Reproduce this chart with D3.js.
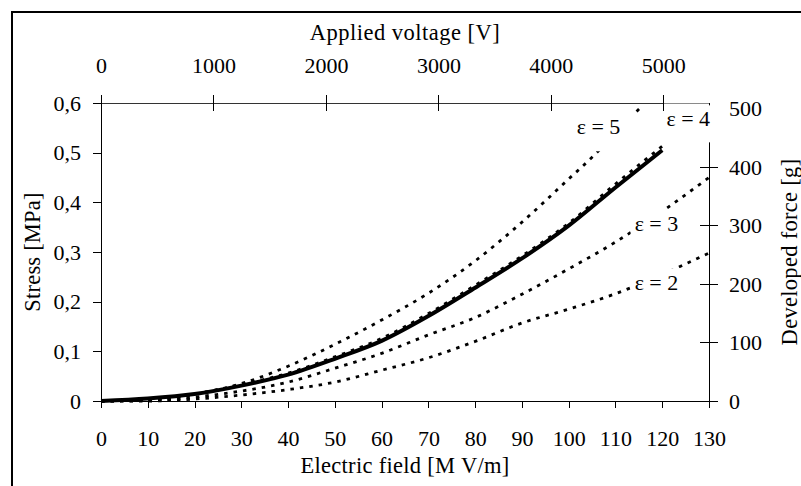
<!DOCTYPE html>
<html>
<head>
<meta charset="utf-8">
<script src="https://cdnjs.cloudflare.com/ajax/libs/d3/7.8.5/d3.min.js"></script>
<style>
body { margin: 0; background: white; }
text { font-family: "Liberation Serif", "Times New Roman", serif; fill: black; }
</style>
</head>
<body>
<div id="root"></div>
<script>
// values
var fieldE = [0, 10, 20, 30, 40, 50, 60, 70, 80, 90, 100, 110, 120, 130];
var fitField = [0, 10, 20, 30, 40, 50, 60, 70, 80, 90, 100, 110, 120];
var stressFit = [0, 0.005, 0.014, 0.031, 0.053, 0.085, 0.121, 0.171, 0.228, 0.287, 0.353, 0.43, 0.505];
var stressEps4 = [0, 0.003, 0.014, 0.033, 0.056, 0.089, 0.126, 0.176, 0.233, 0.292, 0.358, 0.437, 0.513];
var stressEps3 = [0, 0.001, 0.008, 0.02, 0.038, 0.066, 0.096, 0.133, 0.168, 0.215, 0.266, 0.32, 0.382, 0.45];
var stressEps2 = [0, 0, 0.004, 0.012, 0.023, 0.038, 0.062, 0.087, 0.12, 0.157, 0.185, 0.216, 0.255, 0.298];
var eps5Field = [0, 10, 20, 30, 40, 50, 60, 70, 80, 90, 100, 106, 110, 115.5];
var stressEps5 = [0, 0.002, 0.014, 0.035, 0.07, 0.114, 0.163, 0.217, 0.282, 0.36, 0.447, 0.5, 0.54, 0.592];

var fieldTicks = [0, 10, 20, 30, 40, 50, 60, 70, 80, 90, 100, 110, 120, 130];
var stressTicks = [0, 0.1, 0.2, 0.3, 0.4, 0.5, 0.6];
var voltageTicks = [0, 1000, 2000, 3000, 4000, 5000];
var forceTicks = [0, 100, 200, 300, 400, 500];

var w = 801;
var h = 486;
var font = "'Liberation Serif', 'Times New Roman', serif";

// scales
var x = d3.scaleLinear().domain([0, 130]).range([101, 709]);
var y = d3.scaleLinear().domain([0, 0.6]).range([401, 103]);
var yForce = d3.scaleLinear().domain([0, 509.4]).range([401, 103]);
var xVolt = d3.scaleLinear().domain([0, 5406]).range([101, 709]);

var svg = d3.select("#root").append("svg").attr("width", w).attr("height", h);
svg.append("rect").attr("width", w).attr("height", h).attr("fill", "white");
// outer frame, only its top and left edges are inside the picture
svg.append("rect").attr("x", 12).attr("y", 12).attr("width", 830).attr("height", 520)
  .attr("fill", "none").attr("stroke", "black").attr("stroke-width", 2);

// curves
var line = d3.line().curve(d3.curveMonotoneX)
  .x(function(d) { return x(d[0]); })
  .y(function(d) { return y(d[1]); });
var zip = function(a, b) { return a.map(function(v, i) { return [v, b[i]]; }); };

var dotted = [zip(eps5Field, stressEps5), zip(fitField, stressEps4), zip(fieldE, stressEps3), zip(fieldE, stressEps2)];
svg.selectAll(".meas").data(dotted).enter().append("path").attr("class", "meas")
  .attr("d", line).attr("fill", "none").attr("stroke", "black")
  .attr("stroke-width", 2.8).attr("stroke-dasharray", "3.5,6");
svg.append("path").attr("d", line(zip(fitField, stressFit)))
  .attr("fill", "none").attr("stroke", "black").attr("stroke-width", 4);

// right axis (drawn before the labels, the eps = 4 box hides its top)
var rAxis = d3.axisRight(yForce).tickValues(forceTicks).tickSize(9).tickPadding(11);
var gR = svg.append("g").attr("transform", "translate(" + x(130) + ",0)").call(rAxis);
gR.attr("font-family", font).attr("font-size", 22);
gR.selectAll(".tick line").attr("x1", -9);
gR.select(".domain").attr("d", "M0," + yForce(0) + "V" + y(0.6)).attr("stroke", "black");
gR.attr("shape-rendering", "crispEdges");

// curve labels on white boxes
var addLabel = function(txt, e, s, pad) {
  var g = svg.append("g");
  var t = g.append("text").attr("x", x(e)).attr("y", y(s)).attr("font-size", 22).text(txt);
  var b = t.node().getBBox();
  g.insert("rect", "text").attr("x", b.x - pad[3]).attr("y", b.y - pad[0])
    .attr("width", b.width + pad[1] + pad[3]).attr("height", b.height + pad[0] + pad[2])
    .attr("fill", "white");
};
addLabel("ε = 5", 101.7, 0.537, [2, 16, 12, 2]);
addLabel("ε = 4", 120.9, 0.553, [1, 8, 11, 6]);
addLabel("ε = 3", 114.1, 0.342, [2, 4, 2, 4]);
addLabel("ε = 2", 114.1, 0.223, [2, 4, 1, 4]);

// plot top edge, grey
svg.append("line").attr("x1", x(0)).attr("x2", x(130)).attr("y1", y(0.6)).attr("y2", y(0.6))
  .attr("stroke", "#8a8a8a").attr("shape-rendering", "crispEdges");

// top axis, applied voltage
var tAxis = d3.axisTop(xVolt).tickValues(voltageTicks).tickSize(8).tickPadding(22).tickFormat(d3.format("d"));
var gT = svg.append("g").attr("transform", "translate(0," + y(0.6) + ")").call(tAxis);
gT.attr("font-family", font).attr("font-size", 22).attr("shape-rendering", "crispEdges");
gT.selectAll(".tick line").attr("y1", 8);
gT.select(".domain").attr("d", "M" + xVolt(0) + ",0H" + xVolt(5000)).attr("stroke", "#333");

// left axis, stress
var fmtStress = function(d) { return d === 0 ? "0" : d3.format(".1f")(d).replace(".", ","); };
var lAxis = d3.axisLeft(y).tickValues(stressTicks).tickSize(8).tickPadding(12).tickFormat(fmtStress);
var gL = svg.append("g").attr("transform", "translate(" + x(0) + ",0)").call(lAxis);
gL.attr("font-family", font).attr("font-size", 22).attr("shape-rendering", "crispEdges");
gL.select(".domain").attr("d", "M0," + y(0) + "V" + y(0.6));

// bottom axis, electric field
var bAxis = d3.axisBottom(x).tickValues(fieldTicks).tickSize(7).tickPadding(22).tickSizeOuter(0);
var gB = svg.append("g").attr("transform", "translate(0," + y(0) + ")").call(bAxis);
gB.attr("font-family", font).attr("font-size", 22).attr("shape-rendering", "crispEdges");
gB.select(".domain").attr("d", "M" + (x(0) - 8) + ",0H" + (x(130) + 9));

// axis titles
svg.append("text").attr("x", (x(0) + x(130)) / 2).attr("y", 39.5).attr("text-anchor", "middle")
  .attr("font-size", 22.5).attr("letter-spacing", 0.5).text("Applied voltage [V]");
svg.append("text").attr("x", (x(0) + x(130)) / 2).attr("y", 473).attr("text-anchor", "middle")
  .attr("font-size", 22.5).attr("letter-spacing", 0.3).text("Electric field [M V/m]");
svg.append("text").attr("transform", "translate(40," + (y(0) + y(0.6)) / 2 + ") rotate(-90)")
  .attr("text-anchor", "middle").attr("font-size", 22.5).attr("letter-spacing", 0.2).text("Stress [MPa]");
svg.append("text").attr("transform", "translate(797," + (y(0) + y(0.6)) / 2 + ") rotate(-90)")
  .attr("text-anchor", "middle").attr("font-size", 22.5).attr("letter-spacing", 0.3).text("Developed force [g]");
</script>
</body>
</html>
